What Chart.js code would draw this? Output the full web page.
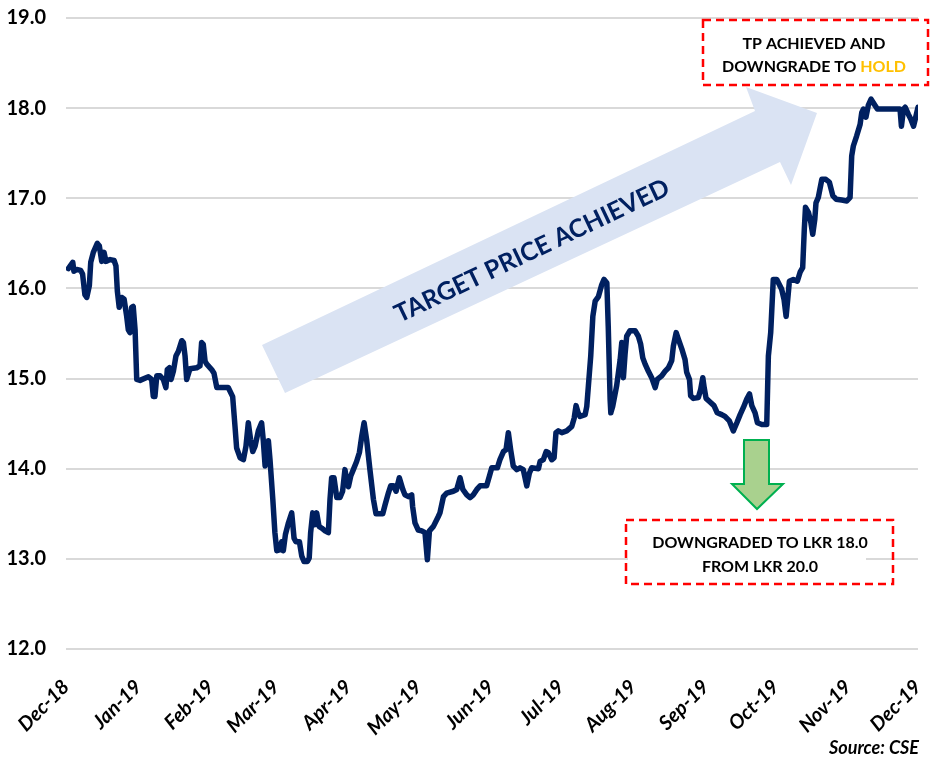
<!DOCTYPE html>
<html><head><meta charset="utf-8">
<script src="https://cdn.jsdelivr.net/npm/chart.js@4/dist/chart.umd.min.js"></script>
<style>html,body{margin:0;padding:0;background:#fff}#wrap{width:932px;height:758px;position:relative}</style>
</head><body><div id="wrap"><canvas id="c"></canvas></div>
<script>
// Month tick labels and their day offsets (days since 1-Dec-2018)
const monthLabels = ["Dec-18","Jan-19","Feb-19","Mar-19","Apr-19","May-19","Jun-19","Jul-19","Aug-19","Sep-19","Oct-19","Nov-19","Dec-19"];
const monthStartDays = [0,31,62,90,121,151,182,212,243,274,304,335,365];
const yTickValues = [12,13,14,15,16,17,18,19];

// Share price (LKR), day offset since 1-Dec-2018
const dayIndex = [1.0,2.9,3.4,4.6,6.3,7.1,8.1,8.9,10.0,10.6,11.7,13.4,14.3,15.3,16.3,17.1,18.9,20.6,21.4,22.0,22.8,23.9,24.9,26.0,26.7,27.4,28.1,28.8,29.6,30.3,31.7,35.3,36.7,37.4,38.1,38.9,40.3,41.7,42.8,43.4,44.3,45.0,46.0,47.1,48.1,49.6,50.3,51.0,51.7,53.1,56.0,57.4,58.1,58.8,59.6,60.3,62.4,63.4,64.6,66.0,69.5,71.4,72.4,73.1,74.6,76.0,77.1,78.1,79.1,80.0,81.0,82.4,83.8,84.5,85.3,86.0,86.7,87.4,88.6,89.5,90.3,91.4,92.4,93.1,94.0,95.3,96.7,97.7,98.5,100.0,101.0,102.0,103.4,104.2,104.8,105.7,106.7,107.4,108.4,109.6,111.0,112.4,113.1,113.8,114.8,116.0,117.4,118.5,119.5,120.2,121.0,122.0,123.1,124.5,125.7,126.7,127.7,128.8,130.2,131.7,132.8,135.7,136.7,138.1,139.1,140.2,141.4,142.8,144.3,145.2,146.7,148.1,148.5,149.5,150.9,152.4,153.8,154.8,155.7,157.4,159.5,160.2,161.7,163.1,165.9,167.4,168.8,170.0,171.7,173.1,174.5,176.0,177.4,180.2,181.4,182.4,184.8,185.9,187.4,188.5,189.5,190.5,191.6,193.1,194.5,195.9,197.4,198.5,199.5,202.4,203.1,204.5,205.7,206.6,208.1,209.1,209.9,210.9,212.4,214.5,216.7,217.7,218.5,219.4,220.2,222.4,223.1,223.8,224.8,225.7,226.7,228.1,229.5,230.5,231.7,232.3,233.1,233.4,234.2,235.9,237.4,238.1,238.8,239.5,240.2,241.6,243.8,245.2,246.2,247.1,248.1,249.5,250.9,252.4,253.3,255.2,256.6,258.1,259.5,260.2,261.4,262.3,263.8,265.2,265.9,267.1,267.6,268.8,270.9,271.9,272.8,273.4,274.2,275.9,277.6,279.0,280.9,282.3,284.2,285.9,287.4,288.8,290.2,291.6,292.8,293.8,295.2,296.2,298.1,300.2,300.9,301.9,303.0,304.5,306.6,307.6,308.5,309.2,309.9,311.6,313.3,314.5,315.6,316.3,316.8,318.1,319.1,319.9,320.8,321.3,322.3,323.8,325.5,327.0,328.5,329.9,332.3,334.5,335.9,336.6,337.3,338.7,340.2,340.9,341.6,342.7,343.7,344.9,346.6,347.6,357.3,357.9,358.8,359.5,360.9,361.9,363.1,364.3,365.0];
const price = [16.22,16.29,16.19,16.21,16.20,16.16,15.93,15.90,16.03,16.29,16.40,16.50,16.47,16.30,16.40,16.30,16.32,16.31,16.25,15.97,15.79,15.90,15.88,15.69,15.54,15.51,15.79,15.80,15.54,14.99,14.98,15.02,14.99,14.80,14.80,15.03,15.03,14.99,14.90,15.10,15.12,14.99,15.08,15.25,15.30,15.42,15.40,15.25,14.99,15.11,15.12,15.14,15.40,15.38,15.19,15.16,15.10,15.06,14.90,14.90,14.90,14.80,14.47,14.23,14.12,14.10,14.25,14.51,14.32,14.19,14.25,14.42,14.51,14.32,14.03,14.18,14.31,14.10,13.66,13.29,13.09,13.10,13.19,13.09,13.27,13.40,13.51,13.23,13.19,13.19,13.03,12.97,12.97,13.01,13.29,13.51,13.38,13.51,13.36,13.34,13.31,13.29,13.66,13.90,13.90,13.68,13.68,13.75,13.99,13.88,13.80,13.92,13.99,14.08,14.18,14.36,14.51,14.32,13.99,13.66,13.50,13.50,13.60,13.73,13.81,13.81,13.75,13.90,13.77,13.71,13.69,13.71,13.58,13.40,13.32,13.31,13.29,12.99,13.31,13.36,13.47,13.51,13.69,13.73,13.75,13.77,13.90,13.77,13.71,13.68,13.71,13.77,13.81,13.81,13.92,14.01,14.01,14.10,14.19,14.21,14.40,14.21,14.03,13.99,14.01,13.99,13.81,13.95,14.01,14.00,14.08,14.10,14.19,14.18,14.10,14.12,14.40,14.42,14.40,14.42,14.47,14.56,14.70,14.62,14.58,14.60,14.69,14.92,15.25,15.69,15.86,15.91,16.04,16.10,16.06,15.58,14.77,14.62,14.69,14.92,15.21,15.40,15.01,15.27,15.47,15.53,15.53,15.47,15.38,15.23,15.16,15.08,15.01,14.90,14.99,15.03,15.08,15.12,15.20,15.36,15.51,15.44,15.33,15.21,15.07,14.99,14.81,14.78,14.79,14.88,15.01,14.90,14.78,14.74,14.70,14.62,14.60,14.58,14.53,14.42,14.51,14.60,14.68,14.77,14.83,14.70,14.62,14.51,14.49,14.49,15.25,15.51,16.10,16.10,15.99,15.88,15.69,15.88,16.08,16.10,16.08,16.18,16.23,16.66,16.90,16.84,16.73,16.60,16.77,16.95,17.01,17.21,17.21,17.18,17.03,16.99,16.98,16.97,17.01,17.47,17.58,17.69,17.82,17.95,17.99,17.90,18.03,18.10,18.03,17.99,17.99,17.80,17.99,18.01,17.93,17.88,17.80,17.93,18.01];

const points = dayIndex.map((d, i) => ({x: d, y: price[i]}));
const NAVY = '#002060';

const overlay = {
  id: 'overlay',
  beforeDatasetsDraw(chart) {
    const ctx = chart.ctx;
    ctx.save();
    ctx.fillStyle = '#dae3f3';
    ctx.beginPath();
    ctx.moveTo(285, 393); ctx.lineTo(262, 345); ctx.lineTo(755, 111);
    ctx.lineTo(746, 87); ctx.lineTo(817, 113); ctx.lineTo(791, 185);
    ctx.lineTo(780, 162); ctx.closePath(); ctx.fill();
    ctx.translate(532, 251);
    ctx.rotate(-25.5 * Math.PI / 180);
    ctx.fillStyle = NAVY;
    ctx.font = 'bold 25px Lato';
    ctx.textAlign = 'center'; ctx.textBaseline = 'middle';
    ctx.fillText('TARGET PRICE ACHIEVED', 0, 0);
    ctx.restore();
  },
  afterDraw(chart) {
    const ctx = chart.ctx;
    ctx.save();
    ctx.fillStyle = '#fff';
    ctx.fillRect(628, 522, 238, 60);
    ctx.strokeStyle = '#ff0000'; ctx.lineWidth = 2.5; ctx.setLineDash([8, 5]);
    ctx.strokeRect(626, 520, 267, 64);
    ctx.fillStyle = '#fff';
    ctx.fillRect(705, 22, 221, 61);
    ctx.strokeRect(703, 20, 225, 65);
    ctx.setLineDash([]);
    ctx.fillStyle = '#000';
    ctx.font = 'bold 16px Lato';
    ctx.textAlign = 'center'; ctx.textBaseline = 'middle';
    ctx.fillText('DOWNGRADED TO LKR 18.0', 760, 543);
    ctx.fillText('FROM LKR 20.0', 760, 567);
    ctx.fillText('TP ACHIEVED AND', 814, 44);
    const a = 'DOWNGRADE TO ', b = 'HOLD';
    const wa = ctx.measureText(a).width, wb = ctx.measureText(b).width;
    const x0 = 814 - (wa + wb) / 2;
    ctx.textAlign = 'left';
    ctx.fillText(a, x0, 67);
    ctx.fillStyle = '#ffc000';
    ctx.fillText(b, x0 + wa, 67);
    ctx.fillStyle = '#a9d18e'; ctx.strokeStyle = '#00b050'; ctx.lineWidth = 2;
    ctx.beginPath();
    ctx.moveTo(744, 440); ctx.lineTo(769, 440); ctx.lineTo(769, 484); ctx.lineTo(783, 484);
    ctx.lineTo(757, 509); ctx.lineTo(732, 484); ctx.lineTo(744, 484); ctx.closePath();
    ctx.fill(); ctx.stroke();
    ctx.fillStyle = '#000';
    ctx.font = 'italic bold 18px Lato';
    ctx.textAlign = 'right'; ctx.textBaseline = 'alphabetic';
    ctx.fillText('Source: CSE', 919, 754);
    ctx.restore();
  }
};

Chart.defaults.font.family = 'Lato';
new Chart(document.getElementById('c'), {
  type: 'line',
  data: { datasets: [{ data: points, borderColor: NAVY, borderWidth: 5.5, pointRadius: 0, tension: 0, borderJoinStyle: 'round', borderCapStyle: 'round', fill: false }] },
  options: {
    responsive: true, maintainAspectRatio: false, animation: false,
    layout: { padding: { top: 18, right: 14, left: 0, bottom: 0 } },
    plugins: { legend: { display: false }, tooltip: { enabled: false } },
    scales: {
      x: {
        type: 'linear', min: 0, max: 365,
        afterBuildTicks: s => { s.ticks = monthStartDays.map(v => ({ value: v })); },
        afterFit: s => { s.height = 109; s.paddingLeft = 0; s.paddingRight = 0; },
        grid: { display: false, drawTicks: false },
        border: { display: false },
        ticks: {
          autoSkip: false, maxRotation: 45, minRotation: 45, padding: 26, color: '#000',
          font: { family: 'Lato', size: 20, weight: 'bold', style: 'italic' },
          callback: v => monthLabels[monthStartDays.indexOf(v)]
        }
      },
      y: {
        min: 12, max: 19,
        afterBuildTicks: s => { s.ticks = yTickValues.map(v => ({ value: v })); },
        afterFit: s => { s.width = 66; s.paddingTop = 0; s.paddingBottom = 0; },
        grid: { color: '#d9d9d9', lineWidth: 2, drawTicks: false },
        border: { display: false },
        ticks: { padding: 20, color: '#000', font: { family: 'Lato', size: 20, weight: 'bold' }, callback: v => v.toFixed(1) }
      }
    }
  },
  plugins: [overlay]
});
</script></body></html>
